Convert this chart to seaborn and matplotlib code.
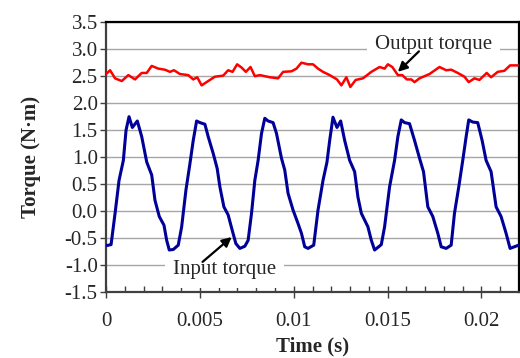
import numpy as np
import pandas as pd
import matplotlib
matplotlib.use("Agg")
import matplotlib.pyplot as plt
import seaborn as sns
from matplotlib.ticker import MultipleLocator

# Input torque (blue) - time in s, torque in N·m
input_time = [0.0, 0.000266, 0.000479, 0.000691, 0.000920, 0.001064, 0.001223, 0.001399,
              0.001665, 0.001899, 0.002165, 0.002431, 0.002606, 0.002835, 0.003085, 0.003229,
              0.003367, 0.003580, 0.003846, 0.004027, 0.004255, 0.004468, 0.004644, 0.004824,
              0.005000, 0.005266, 0.005441, 0.005707, 0.005920, 0.006064, 0.006277, 0.006505,
              0.006718, 0.006915, 0.007128, 0.007394, 0.007569, 0.007750, 0.007926, 0.008101,
              0.008282, 0.008457, 0.008633, 0.008899, 0.009080, 0.009346, 0.009521, 0.009697,
              0.009963, 0.010229, 0.010410, 0.010585, 0.010761, 0.011064, 0.011293, 0.011559,
              0.011771, 0.011915, 0.012090, 0.012303, 0.012500, 0.012713, 0.012979, 0.013245,
              0.013420, 0.013601, 0.013952, 0.014133, 0.014309, 0.014665, 0.014840, 0.015106,
              0.015372, 0.015548, 0.015729, 0.015904, 0.016170, 0.016436, 0.016702, 0.016915,
              0.017144, 0.017410, 0.017676, 0.017856, 0.018122, 0.018388, 0.018564, 0.018793,
              0.019005, 0.019186, 0.019324, 0.019537, 0.019803, 0.020037, 0.020250, 0.020516,
              0.020782, 0.021048, 0.021314, 0.021527, 0.021755, 0.021984]
input_torque = [-0.64, -0.62, -0.04, 0.57, 0.94, 1.50, 1.75, 1.55,
                1.67, 1.38, 0.91, 0.67, 0.20, -0.10, -0.26, -0.54,
                -0.72, -0.71, -0.63, -0.29, 0.39, 0.88, 1.31, 1.67,
                1.64, 1.61, 1.38, 1.07, 0.79, 0.45, 0.08, -0.07,
                -0.35, -0.60, -0.69, -0.65, -0.54, -0.04, 0.57, 0.94,
                1.44, 1.72, 1.67, 1.64, 1.44, 0.98, 0.76, 0.33,
                0.02, -0.23, -0.41, -0.66, -0.69, -0.63, 0.02, 0.57,
                0.91, 1.31, 1.74, 1.55, 1.67, 1.31, 0.94, 0.73,
                0.26, -0.04, -0.29, -0.54, -0.72, -0.62, -0.29, 0.45,
                0.94, 1.38, 1.69, 1.64, 1.62, 1.31, 0.98, 0.73,
                0.08, -0.10, -0.41, -0.66, -0.69, -0.63, -0.04, 0.45,
                0.94, 1.38, 1.69, 1.65, 1.64, 1.31, 0.94, 0.73,
                0.08, -0.10, -0.41, -0.69, -0.66, -0.63]

# Output torque (red)
output_time = [0.0, 0.000213, 0.000479, 0.000835, 0.001186, 0.001543, 0.001899, 0.002165,
               0.002431, 0.002782, 0.003138, 0.003404, 0.003617, 0.003936, 0.004378, 0.004644,
               0.004856, 0.005090, 0.005441, 0.005798, 0.006239, 0.006505, 0.006739, 0.006984,
               0.007218, 0.007447, 0.007697, 0.007926, 0.008191, 0.008723, 0.009165, 0.009431,
               0.009878, 0.010144, 0.010410, 0.010761, 0.011027, 0.011293, 0.011559, 0.011915,
               0.012303, 0.012537, 0.012803, 0.013016, 0.013298, 0.013686, 0.014133, 0.014574,
               0.014840, 0.015016, 0.015250, 0.015548, 0.015782, 0.016027, 0.016261, 0.016436,
               0.016702, 0.017234, 0.017766, 0.018122, 0.018388, 0.018739, 0.019096, 0.019324,
               0.019628, 0.019894, 0.020282, 0.020516, 0.020867, 0.021223, 0.021527, 0.021941]
output_torque = [2.54, 2.61, 2.46, 2.41, 2.52, 2.44, 2.56, 2.56,
                 2.69, 2.64, 2.62, 2.58, 2.61, 2.54, 2.52, 2.44,
                 2.48, 2.33, 2.41, 2.49, 2.51, 2.61, 2.58, 2.72,
                 2.66, 2.58, 2.67, 2.50, 2.52, 2.48, 2.46, 2.58,
                 2.59, 2.64, 2.75, 2.72, 2.72, 2.64, 2.58, 2.52,
                 2.44, 2.33, 2.48, 2.30, 2.43, 2.46, 2.58, 2.67,
                 2.64, 2.72, 2.67, 2.52, 2.52, 2.44, 2.44, 2.39,
                 2.46, 2.54, 2.67, 2.61, 2.62, 2.56, 2.49, 2.39,
                 2.46, 2.43, 2.56, 2.48, 2.58, 2.60, 2.70, 2.70]

sns.set_style('white')
plt.rcParams['font.family'] = ['Liberation Serif', 'DejaVu Serif']

fig = plt.figure(figsize=(5.2, 3.58), dpi=100)
ax = fig.add_axes([0.204, 0.184, 0.794, 0.754])

df_in = pd.DataFrame({'t': input_time, 'torque': input_torque})
df_out = pd.DataFrame({'t': output_time, 'torque': output_torque})
sns.lineplot(data=df_in, x='t', y='torque', ax=ax, color='#000099', linewidth=2.2,
             solid_joinstyle='round', zorder=3)
sns.lineplot(data=df_out, x='t', y='torque', ax=ax, color='#ff0000', linewidth=1.8,
             solid_joinstyle='round', zorder=3)

ax.set_xlim(0, 0.022)
ax.set_ylim(-1.5, 3.5)
yt = np.arange(-1.5, 3.51, 0.5)
ax.set_yticks(yt)
ax.set_yticklabels([f"{v:.1f}" for v in yt])
ax.set_xticks([0, 0.005, 0.01, 0.015, 0.02])
ax.set_xticklabels(['0', '0.005', '0.01', '0.015', '0.02'])
ax.xaxis.set_minor_locator(MultipleLocator(0.001))

ax.grid(axis='y', color='#a6a6a6', linewidth=1.0, zorder=0)
ax.set_axisbelow(True)

ax.tick_params(axis='y', which='major', direction='out', length=4, width=1, color='#404040',
               labelsize=15, pad=2)
ax.tick_params(axis='x', which='major', direction='inout', length=8, width=1, color='#404040',
               labelsize=15, pad=10)
ax.tick_params(axis='x', which='minor', direction='in', length=4, width=1, color='#404040')
ax.xaxis.set_ticks_position('bottom')
ax.yaxis.set_ticks_position('left')

for side in ['top', 'right']:
    ax.spines[side].set_color('black')
    ax.spines[side].set_linewidth(1.6)
for side in ['left', 'bottom']:
    ax.spines[side].set_color('#404040')
    ax.spines[side].set_linewidth(1.6)

ax.set_xlabel('Time (s)', fontsize=15, fontweight='bold', labelpad=4)
ax.set_ylabel('Torque (N·m)', fontsize=15, fontweight='bold', labelpad=17)

# annotation labels with white boxes cutting the gridlines
box = dict(boxstyle='square,pad=0.4', fc='white', ec='none')
ax.text(0.01745, 3.09, 'Output torque', fontsize=15, ha='center', va='center',
        bbox=box, zorder=2)
ax.text(0.00631, -1.09, 'Input torque', fontsize=15, ha='center', va='center',
        bbox=box, zorder=2)

arrow = dict(arrowstyle='-|>', color='black', lw=1.6, mutation_scale=14,
             shrinkA=0, shrinkB=0)
ax.annotate('', xy=(0.01555, 2.58), xytext=(0.01667, 2.96), arrowprops=arrow, zorder=5)
ax.annotate('', xy=(0.00669, -0.48), xytext=(0.00514, -0.94), arrowprops=arrow, zorder=5)

fig.savefig('out.png', dpi=100)
